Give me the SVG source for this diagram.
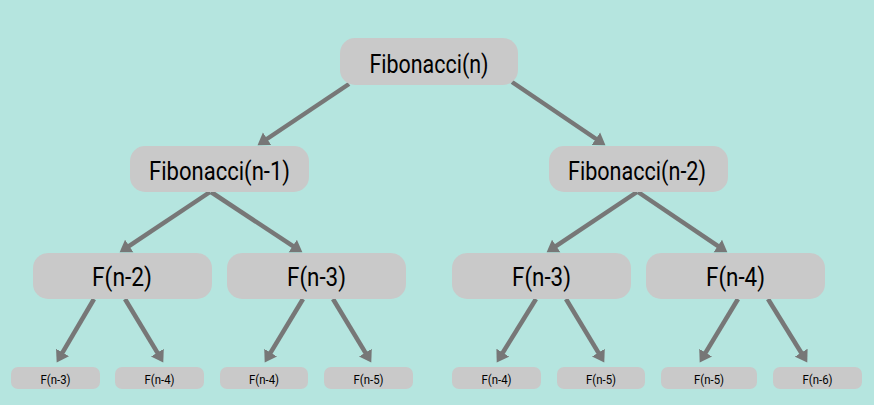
<svg xmlns="http://www.w3.org/2000/svg" width="874" height="405" viewBox="0 0 874 405">
<style>
.bg{fill:#b5e5df}
.n{fill:#c9c9c9}
.t{font-family:Roboto,"Liberation Sans",sans-serif;fill:#000;text-anchor:middle}
.big{font-size:25px}
.sm{font-size:13.5px}
.c line{stroke:#777;stroke-width:4.5;marker-end:url(#ah)}
</style>
<defs>
<marker id="ah" markerUnits="userSpaceOnUse" markerWidth="12" markerHeight="16" refX="3" refY="7.5" orient="auto" viewBox="0 0 12 15">
<path d="M0,0 L11.5,7.5 L0,15 z" fill="#777"/>
</marker>
</defs>
<rect class="bg" x="0" y="0" width="874" height="405"/>
<g class="c" id="connectors">
<line x1="349" y1="84" x2="264.6" y2="140.5"/>
<line x1="512" y1="82" x2="598.4" y2="140.5"/>
<line x1="210" y1="192" x2="126.7" y2="247.6"/>
<line x1="211" y1="192" x2="295.3" y2="247.6"/>
<line x1="637" y1="192" x2="553.7" y2="247.6"/>
<line x1="638" y1="192" x2="720.3" y2="247.6"/>
<line x1="94" y1="299" x2="61" y2="355.1"/>
<line x1="125" y1="299" x2="158.9" y2="355.2"/>
<line x1="303" y1="299" x2="269.1" y2="355.2"/>
<line x1="333" y1="299" x2="366.9" y2="355.2"/>
<line x1="536" y1="299" x2="501.2" y2="355.2"/>
<line x1="566" y1="299" x2="599.9" y2="355.2"/>
<line x1="738" y1="299" x2="704.1" y2="355.2"/>
<line x1="768" y1="299" x2="802.8" y2="355.2"/>
</g>
<g id="fib-n"><rect class="n" x="340" y="38" width="178" height="47" rx="15"/><text class="t big" x="429" y="73" textLength="119" lengthAdjust="spacingAndGlyphs">Fibonacci(n)</text></g>
<g id="fib-n1"><rect class="n" x="130" y="146" width="179" height="46" rx="15"/><text class="t big" x="219.5" y="180" textLength="141" lengthAdjust="spacingAndGlyphs">Fibonacci(n-1)</text></g>
<g id="fib-n2"><rect class="n" x="549" y="146" width="179" height="46" rx="15"/><text class="t big" x="637" y="180" textLength="138" lengthAdjust="spacingAndGlyphs">Fibonacci(n-2)</text></g>
<g id="l3a"><rect class="n" x="33" y="253" width="179" height="46" rx="15"/><text class="t big" x="122" y="286" textLength="60" lengthAdjust="spacingAndGlyphs">F(n-2)</text></g>
<g id="l3b"><rect class="n" x="227" y="253" width="179" height="46" rx="15"/><text class="t big" x="316.5" y="286" textLength="59" lengthAdjust="spacingAndGlyphs">F(n-3)</text></g>
<g id="l3c"><rect class="n" x="452" y="253" width="179" height="46" rx="15"/><text class="t big" x="541.5" y="286" textLength="59" lengthAdjust="spacingAndGlyphs">F(n-3)</text></g>
<g id="l3d"><rect class="n" x="646" y="253" width="179" height="46" rx="15"/><text class="t big" x="735.5" y="286" textLength="59" lengthAdjust="spacingAndGlyphs">F(n-4)</text></g>
<g id="l4a"><rect class="n" x="11" y="367" width="89" height="22" rx="7"/><text class="t sm" x="55.5" y="384" textLength="30" lengthAdjust="spacingAndGlyphs">F(n-3)</text></g>
<g id="l4b"><rect class="n" x="115" y="367" width="89" height="22" rx="7"/><text class="t sm" x="159.5" y="384" textLength="30" lengthAdjust="spacingAndGlyphs">F(n-4)</text></g>
<g id="l4c"><rect class="n" x="220" y="367" width="88" height="22" rx="7"/><text class="t sm" x="264" y="384" textLength="30" lengthAdjust="spacingAndGlyphs">F(n-4)</text></g>
<g id="l4d"><rect class="n" x="324" y="367" width="89" height="22" rx="7"/><text class="t sm" x="368.5" y="384" textLength="30" lengthAdjust="spacingAndGlyphs">F(n-5)</text></g>
<g id="l4e"><rect class="n" x="452" y="367" width="89" height="22" rx="7"/><text class="t sm" x="496.5" y="384" textLength="30" lengthAdjust="spacingAndGlyphs">F(n-4)</text></g>
<g id="l4f"><rect class="n" x="557" y="367" width="88" height="22" rx="7"/><text class="t sm" x="601" y="384" textLength="30" lengthAdjust="spacingAndGlyphs">F(n-5)</text></g>
<g id="l4g"><rect class="n" x="661" y="367" width="96" height="22" rx="7"/><text class="t sm" x="709" y="384" textLength="30" lengthAdjust="spacingAndGlyphs">F(n-5)</text></g>
<g id="l4h"><rect class="n" x="773" y="367" width="89" height="22" rx="7"/><text class="t sm" x="817.5" y="384" textLength="30" lengthAdjust="spacingAndGlyphs">F(n-6)</text></g>
</svg>
